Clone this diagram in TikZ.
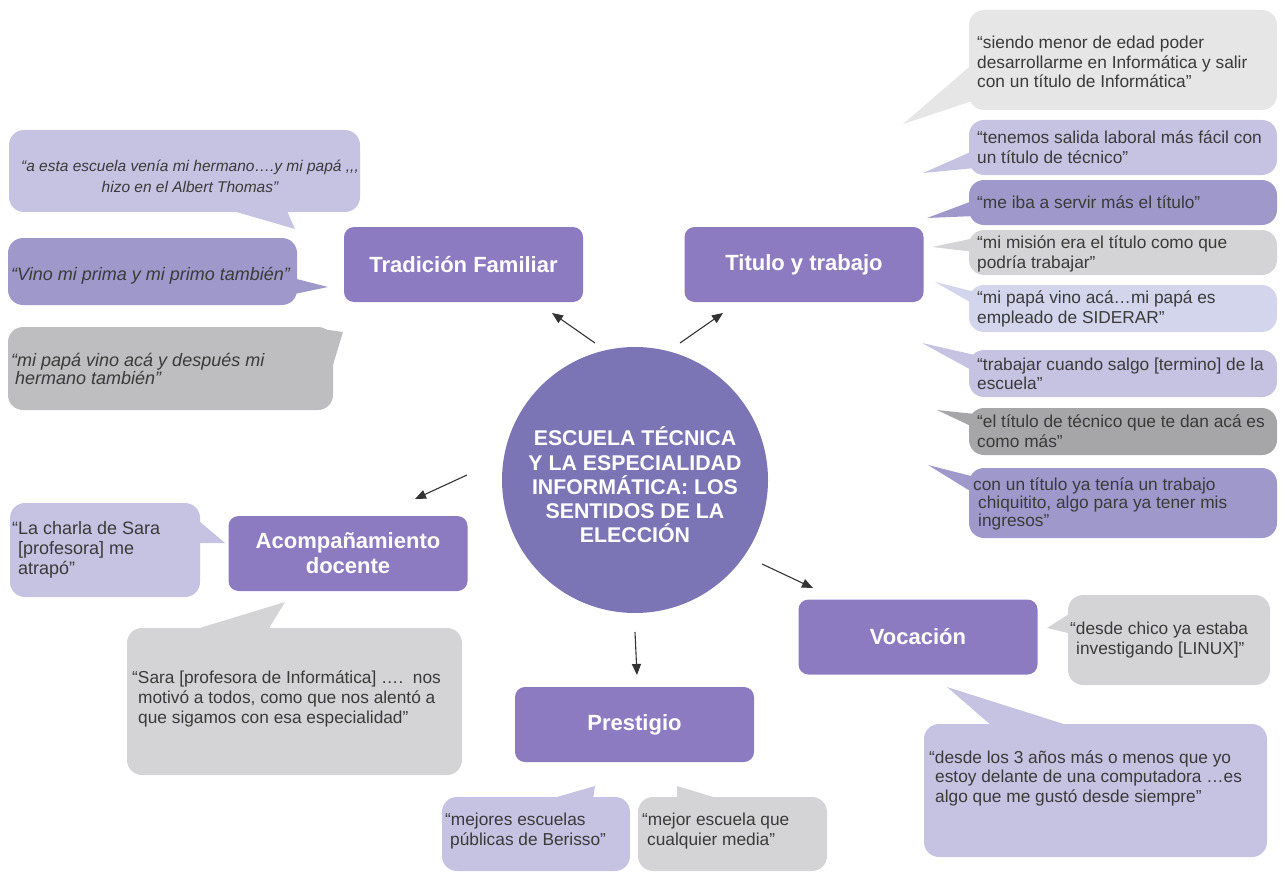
\documentclass[tikz,border=0pt]{standalone}
\usepackage{fontspec}
\setmainfont{Liberation Sans}
\usetikzlibrary{arrows.meta}
\definecolor{circc}{HTML}{7B75B5}
\definecolor{catc}{HTML}{8C7BC1}
\definecolor{lav}{HTML}{C6C2E2}
\definecolor{mlav}{HTML}{9E98CB}
\definecolor{lgray}{HTML}{D4D4D6}
\definecolor{vlgray}{HTML}{E6E6E7}
\definecolor{dgray}{HTML}{A6A6A8}
\definecolor{mgray}{HTML}{BEBEC0}
\definecolor{blav}{HTML}{D3D5EC}
\definecolor{txtc}{HTML}{3A3A3A}
\definecolor{arrc}{HTML}{333333}
\begin{document}
\begin{tikzpicture}[x=1pt,y=-1pt,
  txt/.style={inner sep=0, anchor=west, align=left, text=txtc, font=\fontsize{17.3}{19.5}\selectfont},
  itxt/.style={txt, font=\itshape\fontsize{18}{18.5}\selectfont},
  cat/.style={fill=catc, rounded corners=10, text=white, font=\bfseries\fontsize{22}{25}\selectfont, align=center, inner sep=0, minimum width=239, minimum height=75},
  arr/.style={draw=arrc, line width=1.1pt, -{Triangle[length=11pt,width=9pt]}},
  bub/.style={rounded corners=15}]
\useasboundingbox (0,0) rectangle (1285,872);

% central circle
\node[circle, fill=circc, minimum size=266, inner sep=0] (c) at (635,480) {};
\node[text=white, font=\bfseries\fontsize{21.3}{24.3}\selectfont, align=center, inner sep=0] (ct) at (635,485)
  {ESCUELA TÉCNICA\\Y LA ESPECIALIDAD\\INFORMÁTICA: LOS\\SENTIDOS DE LA\\ELECCIÓN};

% category boxes
\node[cat] (trad) at (463.5,264.5) {Tradición Familiar};
\node[cat] (tit) at (804,264.5) {Titulo y trabajo};
\node[cat] (acom) at (348,553.5) {Acompañamiento\\docente};
\node[cat] (pres) at (634.5,724.5) {Prestigio};
\node[cat] (voc) at (918,637) {Vocación};

% arrows
\coordinate (a1s) at (595,343); \coordinate (a1e) at (552,313);
\coordinate (a2s) at (680,343); \coordinate (a2e) at (723,313);
\coordinate (a3s) at (467,475); \coordinate (a3e) at (415,499);
\coordinate (a4s) at (635,632); \coordinate (a4e) at (637,675);
\coordinate (a5s) at (762,564); \coordinate (a5e) at (813,588);
\draw[arr] (a1s) -- (a1e);
\draw[arr] (a2s) -- (a2e);
\draw[arr] (a3s) -- (a3e);
\draw[arr] (a4s) -- (a4e);
\draw[arr] (a5s) -- (a5e);

% ---- left bubbles (Tradición Familiar)
\fill[lav] (233,211) -- (287,211) -- (295,229) -- cycle;
\fill[lav, bub] (9,130) rectangle (360,212);
\node[txt, anchor=center, align=center, font=\itshape\fontsize{15.5}{21}\selectfont] (b1) at (190,176)
  {“a esta escuela venía mi hermano….y mi papá ,\kern0pt,\kern0pt,\\hizo en el Albert Thomas”};

\fill[mlav] (285,276) -- (328,287) -- (285,296) -- cycle;
\fill[mlav, bub] (8,238) rectangle (297,305);
\node[itxt] (b2) at (11,276) {“Vino mi prima y mi primo también”};

\fill[mgray] (315,328) -- (343,332) -- (333,365) -- cycle;
\fill[mgray, bub] (8,327) rectangle (333,410);
\node[itxt] (b3) at (11,369) {“mi papá vino acá y después mi\\\hspace*{4pt}hermano también”};

% ---- right bubbles (Titulo y trabajo)
\fill[vlgray] (975,62) -- (903,124) -- (975,100) -- cycle;
\fill[vlgray, bub] (969,10) rectangle (1277,110);
\node[txt] (r1) at (977,62) {“siendo menor de edad poder\\desarrollarme en Informática y salir\\con un título de Informática”};

\fill[lav] (975,150) -- (923,173) -- (975,168) -- cycle;
\fill[lav, bub] (969,120) rectangle (1277,175);
\node[txt] (r2) at (977,147) {“tenemos salida laboral más fácil con\\un título de técnico”};

\fill[mlav] (975,200) -- (927,218) -- (975,216) -- cycle;
\fill[mlav, bub] (969,180) rectangle (1277,225);
\node[txt] (r3) at (977,202) {“me iba a servir más el título”};

\fill[lgray] (975,238) -- (932,247) -- (975,252) -- cycle;
\fill[lgray, bub] (969,230) rectangle (1277,275);
\node[txt] (r4) at (977,254) {“mi misión era el título como que\\podría trabajar”};

\fill[blav] (935,282) -- (975,292) -- (975,305) -- cycle;
\fill[blav, bub] (969,285) rectangle (1277,332);
\node[txt] (r5) at (977,309) {“mi papá vino acá…mi papá es\\empleado de SIDERAR”};

\fill[lav] (922,343) -- (975,355) -- (975,372) -- cycle;
\fill[lav, bub] (969,350) rectangle (1277,397);
\node[txt] (r6) at (977,374) {“trabajar cuando salgo [termino] de la\\escuela”};

\fill[dgray] (937,410) -- (975,414) -- (975,428) -- cycle;
\fill[dgray, bub] (969,408) rectangle (1277,455);
\node[txt] (r7) at (977,431) {“el título de técnico que te dan acá es\\como más”};

\fill[mlav] (928,465) -- (975,477) -- (975,494) -- cycle;
\fill[mlav, bub] (969,468) rectangle (1277,538);
\node[txt, font=\fontsize{17.3}{18}\selectfont] (r8) at (973,504) {con un título ya tenía un trabajo\\\hspace*{5pt}chiquitito, algo para ya tener mis\\\hspace*{5pt}ingresos”};

% ---- Acompañamiento docente bubbles
\fill[lav] (192,515) -- (225,543) -- (198,543) -- cycle;
\fill[lav, bub] (10,503) rectangle (200,597);
\node[txt, font=\fontsize{18}{20}\selectfont] (l4) at (12,550) {“La charla de Sara\\\hspace*{6pt}[profesora] me\\\hspace*{6pt}atrapó”};

\fill[lgray] (193,630) -- (285,602) -- (268,630) -- cycle;
\fill[lgray, bub] (127,628) rectangle (462,775);
\node[txt, font=\fontsize{17.3}{20}\selectfont] (l5) at (132,699) {“Sara [profesora de Informática] ….~~nos\\\hspace*{6pt}motivó a todos, como que nos alentó a\\\hspace*{6pt}que sigamos con esa especialidad”};

% ---- Prestigio bubbles
\fill[lav] (550,799) -- (595,786) -- (593,799) -- cycle;
\fill[lav, bub] (442,797) rectangle (630,871);
\node[txt] (p1) at (445,831) {“mejores escuelas\\\hspace*{5pt}públicas de Berisso”};

\fill[lgray] (677,799) -- (677,786) -- (720,799) -- cycle;
\fill[lgray, bub] (638,797) rectangle (827,871);
\node[txt] (p2) at (642,831) {“mejor escuela que\\\hspace*{5pt}cualquier media”};

% ---- Vocación bubbles
\fill[lgray] (1072,612) -- (1047,628) -- (1072,634) -- cycle;
\fill[lgray, bub] (1068,595) rectangle (1270,685);
\node[txt] (v1) at (1070,640) {“desde chico ya estaba\\\hspace*{6pt}investigando [LINUX]”};

\fill[lav] (992,726) -- (947,687) -- (1070,726) -- cycle;
\fill[lav, bub] (924,724) rectangle (1267,857);
\node[txt] (v2) at (929,778) {“desde los 3 años más o menos que yo\\\hspace*{6pt}estoy delante de una computadora …es\\\hspace*{6pt}algo que me gustó desde siempre”};
\end{tikzpicture}
\end{document}
